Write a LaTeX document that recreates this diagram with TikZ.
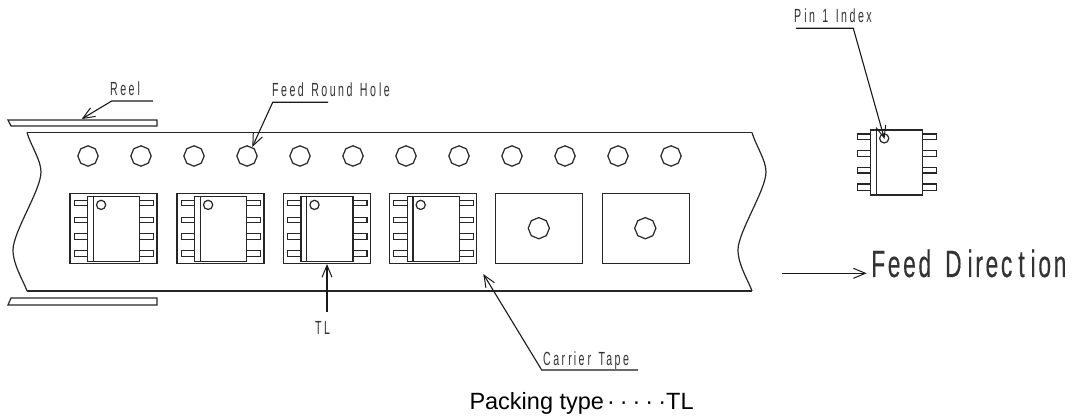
\documentclass[tikz,border=0pt]{standalone}
\usepackage{fontspec}
\setmainfont{Liberation Sans}
\newfontfamily\cond[FakeStretch=0.56,LetterSpace=13]{Liberation Sans}
\newfontfamily\condbig[FakeStretch=0.6,LetterSpace=7,FakeBold=0.3]{Liberation Sans}
\usetikzlibrary{arrows.meta}
\tikzset{
  ln/.style={line width=1.2pt,black!85},
  ar/.style={line width=1.1pt,black!90,-{Straight Barb[length=12pt,width=10pt,line width=1pt]}},
  lab/.style={inner sep=0pt,anchor=base west,text=black!80},
  small/.style={lab,font=\cond\fontsize{19}{19}\selectfont},
}
\newcommand{\chipat}[2]{%
  \begin{scope}[shift={(#1,#2)}]
    \draw[ln] (0,0) rectangle (52,65);
    \draw[ln] (5.8,0) -- (5.8,65);
    \draw[ln] (13.5,8.4) circle (4.6);
    \foreach \ya/\yb in {4/9.4,20.7/26.4,37.4/43,54/60.4}{
      \draw[ln] (0,\ya) -- (-13.5,\ya) -- (-13.5,\yb) -- (0,\yb);
      \draw[ln] (52,\ya) -- (66,\ya) -- (66,\yb) -- (52,\yb);
    }
  \end{scope}}
\begin{document}
\begin{tikzpicture}[x=1pt,y=-1pt]
\useasboundingbox (0,0) rectangle (1072,419);
% reels
\draw[ln] (8,120) -- (157,120) -- (157,126) -- (11,126) -- cycle;
\draw[ln] (11,298) -- (157,298) -- (157,305) -- (8,305) -- cycle;
% tape
\coordinate (tl) at (27,132.5);
\coordinate (tr) at (752,132.5);
\coordinate (bl) at (27,291);
\coordinate (br) at (752,291);
\draw[ln] (tl) -- (tr);
\draw[ln] (bl) -- (br);
\foreach \dx in {0,725}{
  \draw[ln,xshift=\dx] (27,132.5) .. controls (31,146) and (41,160) .. (41,172)
    .. controls (41,190) and (13,232) .. (13,250)
    .. controls (13,265) and (24,282) .. (27,291);
}
% holes
\foreach \x in {88,141,194,247,300,353,406,459,512,565,618,671}{
  \draw[ln,shift={(\x,156)}] (0:10.2) \foreach \a in {45,90,...,315}{ -- (\a:10.2)} -- cycle;
}
% pockets
\foreach \x in {70,177,283.4,389.6}{
  \draw[ln] (\x,193.7) rectangle ++(87,70);
  \chipat{\x+17.6}{196.5}
}
\foreach \x in {495.8,602.3}{
  \draw[ln] (\x,193.7) rectangle ++(87,70);
  \draw[ln,shift={(\x+43,228.2)}] (0:10.6) \foreach \a in {45,90,...,315}{ -- (\a:10.6)} -- cycle;
}
% lone chip
\chipat{870.7}{130}
% leaders
\coordinate (r1) at (153,101);
\coordinate (r2) at (111.7,101);
\coordinate (r3) at (81.7,119);
\draw[ar] (r1) -- (r2) -- (r3);
\node[small] at (110,96) {Ree\kern3pt l};
\coordinate (f1) at (328,102.3);
\coordinate (f2) at (272.7,102.3);
\coordinate (f3) at (252.3,147);
\draw[ar] (f1) -- (f2) -- (f3);
\node[small] at (272,97) {Feed\kern2pt\ Round\kern2pt\ Ho\kern3pt le};
\coordinate (p1) at (796,28.3);
\coordinate (p2) at (853.3,28.3);
\coordinate (p3) at (884.5,139);
\draw[ar] (p1) -- (p2) -- (p3);
\node[small] at (794,23) {P\kern3pt in\kern2pt\ 1\kern2pt\ Index};
\coordinate (t1) at (327,311.7);
\coordinate (t2) at (327,264);
\draw[ar] (t1) -- (t2);
\node[small] at (315,335) {TL};
\coordinate (c1) at (638,370);
\coordinate (c2) at (541.7,370);
\coordinate (c3) at (483.3,274);
\draw[ar] (c1) -- (c2) -- (c3);
\node[small] at (543,366) {Car\kern3pt r\kern2pt ie\kern3pt r\kern2pt\ Tape};
\coordinate (d1) at (781.7,273.3);
\coordinate (d2) at (866.7,273.3);
\draw[ar] (d1) -- (d2);
\node[lab,font=\condbig\fontsize{38}{38}\selectfont] at (871,277) {Feed\kern5pt\ D\kern6pt irec\kern6pt t\kern6pt ion};
\node[lab,font=\fontsize{23.5}{23.5}\selectfont,text=black] at (469.3,409.3) {Packing type\kern3pt ·\kern5pt ·\kern5pt ·\kern5pt ·\kern5pt ·\kern0pt TL};
\end{tikzpicture}
\end{document}
